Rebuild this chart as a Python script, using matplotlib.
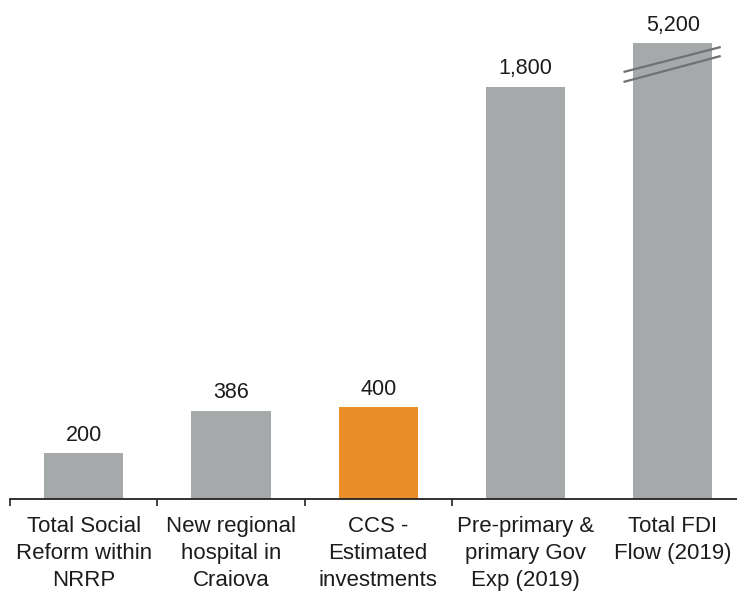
import numpy as np
import matplotlib
matplotlib.use("Agg")
import matplotlib.pyplot as plt

categories = [
    "Total Social\nReform within\nNRRP",
    "New regional\nhospital in\nCraiova",
    "CCS -\nEstimated\ninvestments",
    "Pre-primary &\nprimary Gov\nExp (2019)",
    "Total FDI\nFlow (2019)",
]
values = [200, 386, 400, 1800, 5200]
highlight = "CCS -\nEstimated\ninvestments"

GREY = "#a6a9a9"
ORANGE = "#eb8d28"
TEXT = "#1c1c1c"

# axis is broken above CUT: anything higher is squeezed so the FDI bar fits
CUT = 1900
SQUEEZE = 0.0273


def fwd(y):
    y = np.asarray(y, dtype=float)
    return np.where(y <= CUT, y, CUT + (y - CUT) * SQUEEZE)


def inv(y):
    y = np.asarray(y, dtype=float)
    return np.where(y <= CUT, y, CUT + (y - CUT) / SQUEEZE)


plt.rcParams["font.family"] = ["Liberation Sans", "DejaVu Sans"]

fig = plt.figure(figsize=(7.37, 5.95), dpi=100)
ax = fig.add_axes([10 / 737, 96 / 595, 736.5 / 737, 499 / 595])
ax.set_yscale("function", functions=(fwd, inv))

x = np.arange(len(categories))
colors = [ORANGE if c == highlight else GREY for c in categories]
ax.bar(x, values, width=0.537, color=colors, zorder=2)

for xi, v in zip(x, values):
    ax.annotate(f"{v:,}", (xi, v), xytext=(0, 5.5), textcoords="offset points",
                ha="center", va="bottom", fontsize=15.5, color=TEXT)

# break marks on the last bar
tr = ax.get_xaxis_transform()
bx = x[-1]
for y0, y1 in [(0.8557, 0.9058), (0.8357, 0.8878)]:
    ax.plot([bx - 0.335, bx + 0.325], [y0, y1], transform=tr,
            color="#6f7272", lw=1.6, solid_capstyle="butt", zorder=3,
            clip_on=False)

ax.set_xlim(-0.5, len(categories) - 0.5)
ax.set_ylim(0, float(inv(499 / 0.2289)))

ax.set_xticks(x)
ax.set_xticklabels(categories, fontsize=16, color=TEXT, linespacing=1.38)
ax.tick_params(axis="x", which="major", length=0, pad=12)
ax.set_xticks(x[:-1] - 0.5, minor=True)
ax.tick_params(axis="x", which="minor", length=5, width=1.2, color="#222222",
               direction="out")

ax.set_yticks([])
for s in ["left", "right", "top"]:
    ax.spines[s].set_visible(False)
ax.spines["bottom"].set_linewidth(1.3)
ax.spines["bottom"].set_color("#222222")

fig.savefig("out.png", dpi=100)
